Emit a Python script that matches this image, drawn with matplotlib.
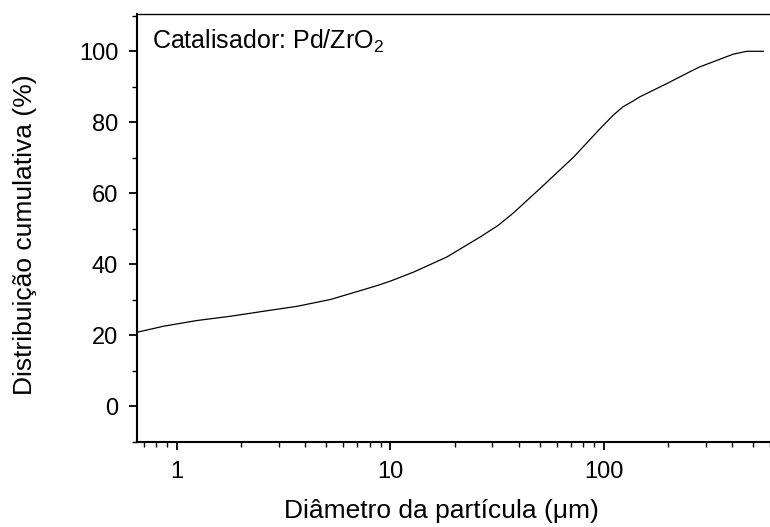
import matplotlib
matplotlib.use("Agg")
import matplotlib.pyplot as plt
from matplotlib.ticker import AutoMinorLocator, FixedLocator, FixedFormatter

plt.rcParams['font.family'] = ['Liberation Sans', 'DejaVu Sans']
plt.rcParams['mathtext.fontset'] = 'custom'
plt.rcParams['mathtext.rm'] = 'Liberation Sans'

diameter_um = [0.65, 0.866, 1.24, 1.78, 2.54, 3.65, 5.22, 7.5, 8.94, 10.0, 12.8, 18.4,
               26.3, 32.0, 37.7, 50.1, 72.1, 95.9, 103, 111, 123, 137, 147.6, 197, 254, 281,
               404, 467, 558]
cumulative_pct = [20.9, 22.6, 24.2, 25.4, 26.8, 28.2, 30.1, 32.9, 34.3, 35.3, 37.8, 42.1,
                  47.7, 51.0, 54.5, 61.3, 70.2, 78.2, 80.1, 82.1, 84.4, 86.0, 87.2, 90.9, 94.3,
                  95.6, 99.2, 100.0, 100.0]
y_ticks = [0, 20, 40, 60, 80, 100]
x_ticks = [1, 10, 100]
x_tick_labels = ['1', '10', '100']

fig = plt.figure(figsize=(7.7, 5.27), dpi=100)
ax = fig.add_axes([137/770, 1 - 442/527, 1 - 137/770, (442 - 14)/527])

ax.plot(diameter_um, cumulative_pct, color='black', lw=0.9, solid_joinstyle='round')
ax.set_xscale('log')
ax.set_xlim(0.65, 600)
ax.set_ylim(-10, 110.5)

ax.xaxis.set_major_locator(FixedLocator(x_ticks))
ax.xaxis.set_major_formatter(FixedFormatter(x_tick_labels))
ax.set_yticks(y_ticks)
ax.yaxis.set_minor_locator(AutoMinorLocator(2))

ax.spines['right'].set_visible(False)
for s in ['left', 'bottom']:
    ax.spines[s].set_linewidth(1.5)
ax.spines['top'].set_linewidth(1.0)
ax.tick_params(which='major', direction='out', length=6, width=1.3, labelsize=17,
               top=False, right=False)
ax.tick_params(which='minor', direction='out', length=3.6, width=1.0, top=False, right=False)
ax.tick_params(axis='x', pad=8)
ax.tick_params(axis='y', pad=7.5)

ax.set_xlabel('Diâmetro da partícula (μm)', fontsize=19)
ax.set_ylabel('Distribuição cumulativa (%)', fontsize=19)
ax.xaxis.set_label_coords((441 - 137) / 633, -(499 - 442) / 428)
ax.yaxis.set_label_coords(-(137 - 37) / 633, 1 - (235 - 14) / 428)

ax.text(152/770, 1 - 41/527, r'Catalisador: Pd/ZrO$_\mathregular{2}$',
        transform=fig.transFigure, fontsize=18, va='center', ha='left')

fig.savefig('out.png', dpi=100)
